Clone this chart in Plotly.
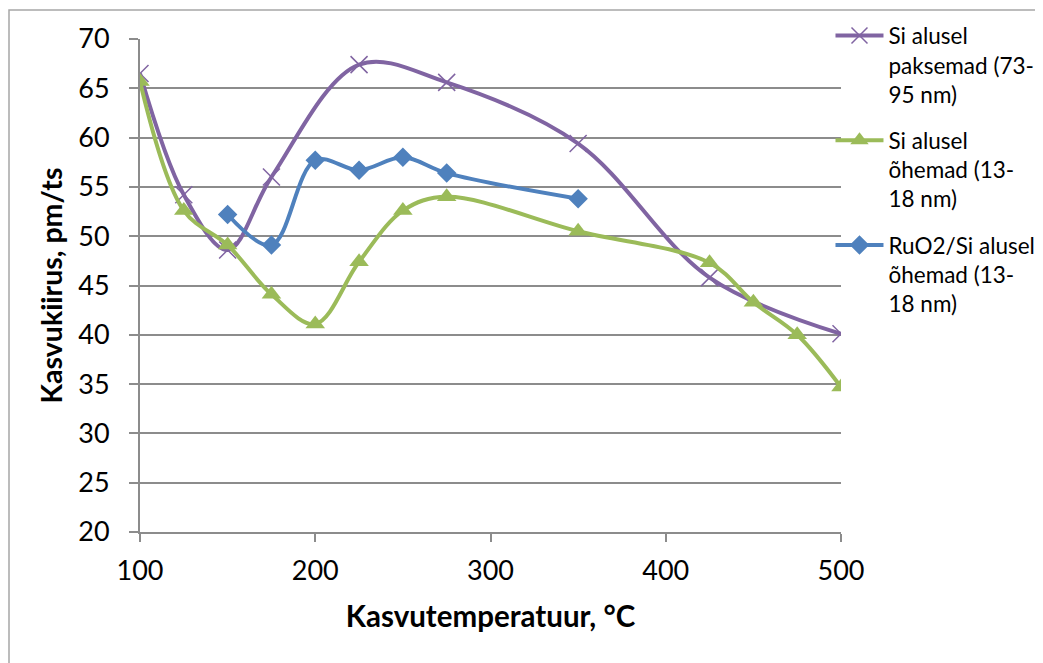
import plotly.graph_objects as go

# Data
x_paks = [100, 125, 150, 175, 225, 275, 350, 425, 500]
y_paks = [66.5, 54.2, 48.6, 56.0, 67.4, 65.6, 59.4, 45.8, 40.1]

x_ohem = [100, 125, 150, 175, 200, 225, 250, 275, 350, 425, 450, 475, 500]
y_ohem = [65.7, 52.6, 49.1, 44.1, 41.1, 47.4, 52.6, 54.0, 50.5, 47.3, 43.3, 40.0, 34.7]

x_ruo2 = [150, 175, 200, 225, 250, 275, 350]
y_ruo2 = [52.2, 49.1, 57.7, 56.7, 58.0, 56.4, 53.8]

names = [
    "Si alusel<br>paksemad (73-<br>95 nm)",
    "Si alusel<br>õhemad (13-<br>18 nm)",
    "RuO2/Si alusel<br>õhemad (13-<br>18 nm)",
]
x_ticks = [100, 200, 300, 400, 500]
y_ticks = [20, 25, 30, 35, 40, 45, 50, 55, 60, 65, 70]

FONT = "Lato, 'Open Sans', sans-serif"
PURPLE = "#8064A2"
GREEN = "#9BBB59"
BLUE = "#4F81BD"
GRID = "#8C8C8C"

fig = go.Figure()
fig.add_trace(go.Scatter(
    x=x_paks, y=y_paks, name=names[0], mode="lines+markers", legendgroup="g1",
    line=dict(color=PURPLE, width=4, shape="spline", smoothing=1.0),
    marker=dict(symbol="x-thin", size=17, line=dict(color=PURPLE, width=1.5), color=PURPLE),
))
fig.add_trace(go.Scatter(
    x=x_ohem, y=y_ohem, name=names[1], mode="lines+markers", legendgroup="g2",
    line=dict(color=GREEN, width=4, shape="spline", smoothing=1.0),
    marker=dict(symbol="triangle-up", size=17, color=GREEN),
))
fig.add_trace(go.Scatter(
    x=x_ruo2, y=y_ruo2, name=names[2], mode="lines+markers", legendgroup="g3",
    line=dict(color=BLUE, width=4, shape="spline", smoothing=1.0),
    marker=dict(symbol="diamond", size=15, color=BLUE),
))

# page body has an 8px margin, so the figure starts at (8, 8)
fig.update_layout(
    width=1035, height=655,
    margin=dict(l=132, r=202, t=31, b=131, autoexpand=False),
    paper_bgcolor="white", plot_bgcolor="white",
    font=dict(family=FONT, color="black", size=27),
    showlegend=True,
    legend=dict(
        x=0.985, y=1.05, xanchor="left", yanchor="top",
        font=dict(family=FONT, size=22.5, color="black"),
        valign="top", tracegroupgap=14, itemwidth=48,
        bgcolor="rgba(0,0,0,0)",
    ),
    xaxis=dict(
        range=[100, 500], tickvals=x_ticks, ticktext=[str(v) for v in x_ticks],
        showgrid=False, zeroline=False,
        showline=True, linecolor=GRID, linewidth=2,
        ticks="outside", ticklen=8, tickcolor=GRID, tickwidth=2,
        ticklabelstandoff=6,
        tickfont=dict(size=27, family=FONT),
        title=dict(text="<b>Kasvutemperatuur, °C</b>", font=dict(size=29.5, family=FONT), standoff=21),
    ),
    yaxis=dict(
        range=[20, 70], tickvals=y_ticks, ticktext=[str(v) for v in y_ticks],
        showgrid=True, gridcolor=GRID, gridwidth=1.5, zeroline=False,
        showline=True, linecolor=GRID, linewidth=2,
        ticks="outside", ticklen=9, tickcolor=GRID, tickwidth=2,
        ticklabelstandoff=14,
        tickfont=dict(size=27, family=FONT),
        title=dict(text="<b>Kasvukiirus, pm/ts</b>", font=dict(size=28.5, family=FONT), standoff=7),
    ),
)

# Chart border (outer frame)
fig.add_shape(
    type="rect", xref="paper", yref="paper",
    x0=(9 - 140) / 701, x1=(1060 - 140) / 701,
    y0=(532 - 680) / 493, y1=1 + (39 - 10) / 493,
    line=dict(color="#A6A6A6", width=1.5), fillcolor="rgba(0,0,0,0)", layer="below",
)

fig.write_html("out.html")
